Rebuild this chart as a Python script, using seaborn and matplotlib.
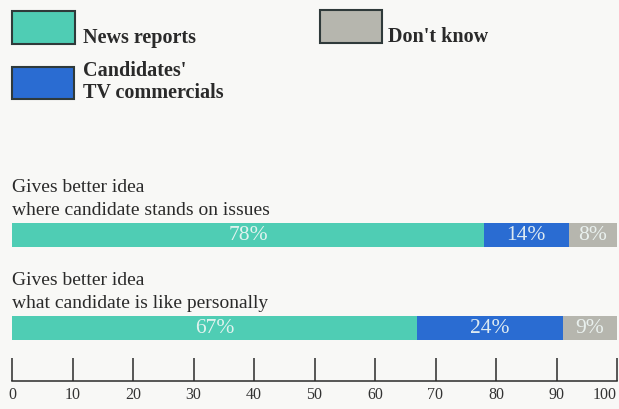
import numpy as np
import pandas as pd
import matplotlib
matplotlib.use("Agg")
import matplotlib.pyplot as plt
from matplotlib.patches import Rectangle
import seaborn as sns

# ---- data ----
categories = ["Gives better idea\nwhere candidate stands on issues",
              "Gives better idea\nwhat candidate is like personally"]
news_reports = [78, 67]
tv_commercials = [14, 24]
dont_know = [8, 9]
series_names = ["News reports", "Candidates'\nTV commercials", "Don't know"]
xticks = [0, 10, 20, 30, 40, 50, 60, 70, 80, 90, 100]

# ---- style ----
colors = ["#4fcdb4", "#2a6cd2", "#b6b6ae"]
bg = "#f8f8f6"
W, H = 619, 409

sns.set_theme(style="white")
plt.rcParams["font.family"] = ["Liberation Serif", "DejaVu Serif"]

fig = plt.figure(figsize=(W / 100, H / 100), dpi=100, facecolor=bg)

def fx(px):
    return px / W

def fy(py):
    return 1 - py / H

ax = fig.add_axes([fx(12), fy(381), fx(617) - fx(12), fy(170) - fy(381)])
ax.set_facecolor(bg)

series = [news_reports, tv_commercials, dont_know]
cum = np.cumsum(np.array(series), axis=0)  # cumulative ends
df = pd.DataFrame({"cat": categories})
for i in range(2, -1, -1):
    df["val"] = cum[i]
    sns.barplot(data=df, x="val", y="cat", orient="h", color=colors[i],
                saturation=1, width=0.26, linewidth=0, errorbar=None, ax=ax)

ax.set_xlim(0, 100)
ax.set_ylim(1.57, -0.70)
ax.set_xlabel("")
ax.set_ylabel("")
ax.tick_params(axis="y", left=False, labelleft=False)
for s in ["top", "right", "left"]:
    ax.spines[s].set_visible(False)
ax.spines["bottom"].set_color("#2a2a2a")
ax.spines["bottom"].set_linewidth(1.1)
ax.set_xticks(xticks)
ax.set_xticklabels([str(t) for t in xticks], fontsize=11.5, color="#333333")
ax.tick_params(axis="x", direction="in", length=16.5, width=1.1,
               color="#2a2a2a", pad=4.5, bottom=True)
labs = ax.get_xticklabels()
labs[-1].set_horizontalalignment("right")

# segment percentage labels
for ci in range(len(categories)):
    start = 0
    for si, vals in enumerate(series):
        v = vals[ci]
        ax.text(start + v / 2, ci, f"{v}%", ha="center", va="center",
                fontsize=15.5, color="#eef6f4", alpha=0.92)
        start += v
    # category label above bar
    ax.text(0, ci - 0.13 - 0.09, categories[ci], ha="left", va="baseline",
            fontsize=14, color="#2a2a2a", linespacing=1.45)

# ---- legend (drawn in figure pixels) ----
def box(x0, y0, x1, y1, c):
    fig.add_artist(Rectangle((fx(x0), fy(y1)), fx(x1) - fx(x0), fy(y0) - fy(y1),
                             transform=fig.transFigure, facecolor=c,
                             edgecolor="#2f3a3a", linewidth=1.5))

legend_fs = 14.5
box(12, 11, 75, 44, colors[0])
fig.text(fx(83), fy(43), series_names[0], ha="left", va="baseline",
         fontsize=legend_fs, fontweight="bold", color="#2a2a2a")
box(12, 67, 74, 99, colors[1])
fig.text(fx(83), fy(98), series_names[1], ha="left", va="baseline",
         fontsize=legend_fs, fontweight="bold", color="#2a2a2a", linespacing=1.15)
box(320, 10, 382, 43, colors[2])
fig.text(fx(388), fy(42), series_names[2], ha="left", va="baseline",
         fontsize=legend_fs, fontweight="bold", color="#2a2a2a")

fig.savefig("out.png", dpi=100, facecolor=bg)
